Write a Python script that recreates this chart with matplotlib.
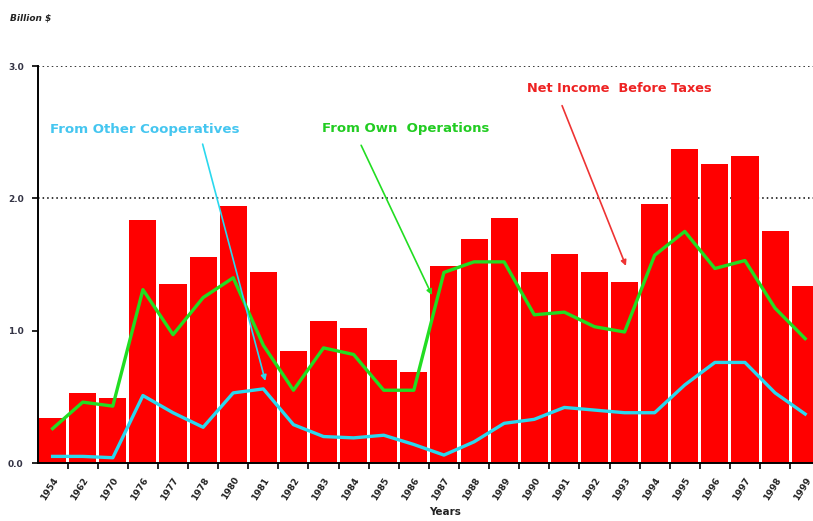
"""
Cooperative net income before taxes, with the share from own operations
and from other cooperatives (billion $).
"""

import matplotlib
matplotlib.use("Agg")
import matplotlib.pyplot as plt
import numpy as np

# ── Data ──────────────────────────────────────────────────────────────────
years = ["1954", "1962", "1970", "1976", "1977", "1978", "1980", "1981",
         "1982", "1983", "1984", "1985", "1986", "1987", "1988", "1989",
         "1990", "1991", "1992", "1993", "1994", "1995", "1996", "1997",
         "1998", "1999"]
net_income = [0.34, 0.53, 0.49, 1.84, 1.35, 1.56, 1.94, 1.44, 0.85, 1.07,
              1.02, 0.78, 0.69, 1.49, 1.69, 1.85, 1.44, 1.58, 1.44, 1.37,
              1.96, 2.37, 2.26, 2.32, 1.75, 1.34]
own_operations = [0.26, 0.46, 0.43, 1.31, 0.97, 1.25, 1.40, 0.89, 0.55, 0.87,
                  0.82, 0.55, 0.55, 1.44, 1.52, 1.52, 1.12, 1.14, 1.03, 0.99,
                  1.57, 1.75, 1.47, 1.53, 1.17, 0.94]
other_coops = [0.05, 0.05, 0.04, 0.51, 0.38, 0.27, 0.53, 0.56, 0.29, 0.20,
               0.19, 0.21, 0.14, 0.06, 0.16, 0.30, 0.33, 0.42, 0.40, 0.38,
               0.38, 0.59, 0.76, 0.76, 0.53, 0.37]
y_ticks = [0.0, 1.0, 2.0, 3.0]

RED = "#ff0000"
GREEN = "#22dd22"
CYAN = "#2ad8ee"

# ── Figure ────────────────────────────────────────────────────────────────
fig = plt.figure(figsize=(8.13, 5.21), dpi=100)
ax = fig.add_axes([0.0462, 0.1113, 0.9538, 0.762])

x = np.arange(len(years))
ax.bar(x, net_income, width=0.9, color=RED, zorder=2)
ax.plot(x, own_operations, color=GREEN, lw=2.4, zorder=3)
ax.plot(x, other_coops, color=CYAN, lw=2.4, zorder=3)

for level in (2.0, 3.0):
    ax.axhline(level, color="black", lw=1.1, ls=(0, (1, 2.0)), zorder=1)

ax.set_xlim(-0.5, 25.26)
ax.set_ylim(0, 3.0)

# ── Axes styling ──────────────────────────────────────────────────────────
for side in ("top", "right"):
    ax.spines[side].set_visible(False)
ax.spines["left"].set_linewidth(1.4)
ax.spines["bottom"].set_linewidth(1.4)
ax.spines["bottom"].set_zorder(4)

ax.set_yticks(y_ticks)
ax.set_yticklabels([f"{v:.1f}" for v in y_ticks], fontsize=6.5,
                   fontweight="bold", color="#333344")
ax.tick_params(axis="y", length=4, width=1.2, pad=6)

ax.set_xticks(x)
ax.set_xticklabels(years, rotation=58, ha="right", rotation_mode="anchor",
                   fontsize=6.5, fontweight="bold", color="#222222")
ax.tick_params(axis="x", length=0, pad=9)
ax.set_xticks(x[:-1] + 0.5, minor=True)
ax.tick_params(axis="x", which="minor", length=4, width=1.2)

fig.text(0.012, 0.965, "Billion $", fontsize=6.5, fontweight="bold",
         style="italic", color="#222222", va="center")
fig.text(0.547, 0.017, "Years", fontsize=7.5, fontweight="bold",
         color="#222222", ha="center", va="center")

# ── Annotations ───────────────────────────────────────────────────────────
ax.text(-0.09, 2.52, "From Other Cooperatives", color="#45c6f0",
        fontsize=9.6, fontweight="bold", va="center")
ax.annotate("", xy=(7.09, 0.60), xytext=(4.96, 2.43),
            arrowprops=dict(arrowstyle="-|>", color=CYAN, lw=1.2,
                            mutation_scale=8))

ax.text(8.95, 2.53, "From Own  Operations", color="#22cc22",
        fontsize=9.5, fontweight="bold", va="center")
ax.annotate("", xy=(12.64, 1.25), xytext=(10.21, 2.42),
            arrowprops=dict(arrowstyle="-|>", color=GREEN, lw=1.2,
                            mutation_scale=8))

ax.text(15.76, 2.83, "Net Income  Before Taxes", color="#ee2222",
        fontsize=9.3, fontweight="bold", va="center")
ax.annotate("", xy=(19.08, 1.47), xytext=(16.89, 2.72),
            arrowprops=dict(arrowstyle="-|>", color="#ee3333", lw=1.2,
                            mutation_scale=8))

fig.savefig("out.png", dpi=100)
